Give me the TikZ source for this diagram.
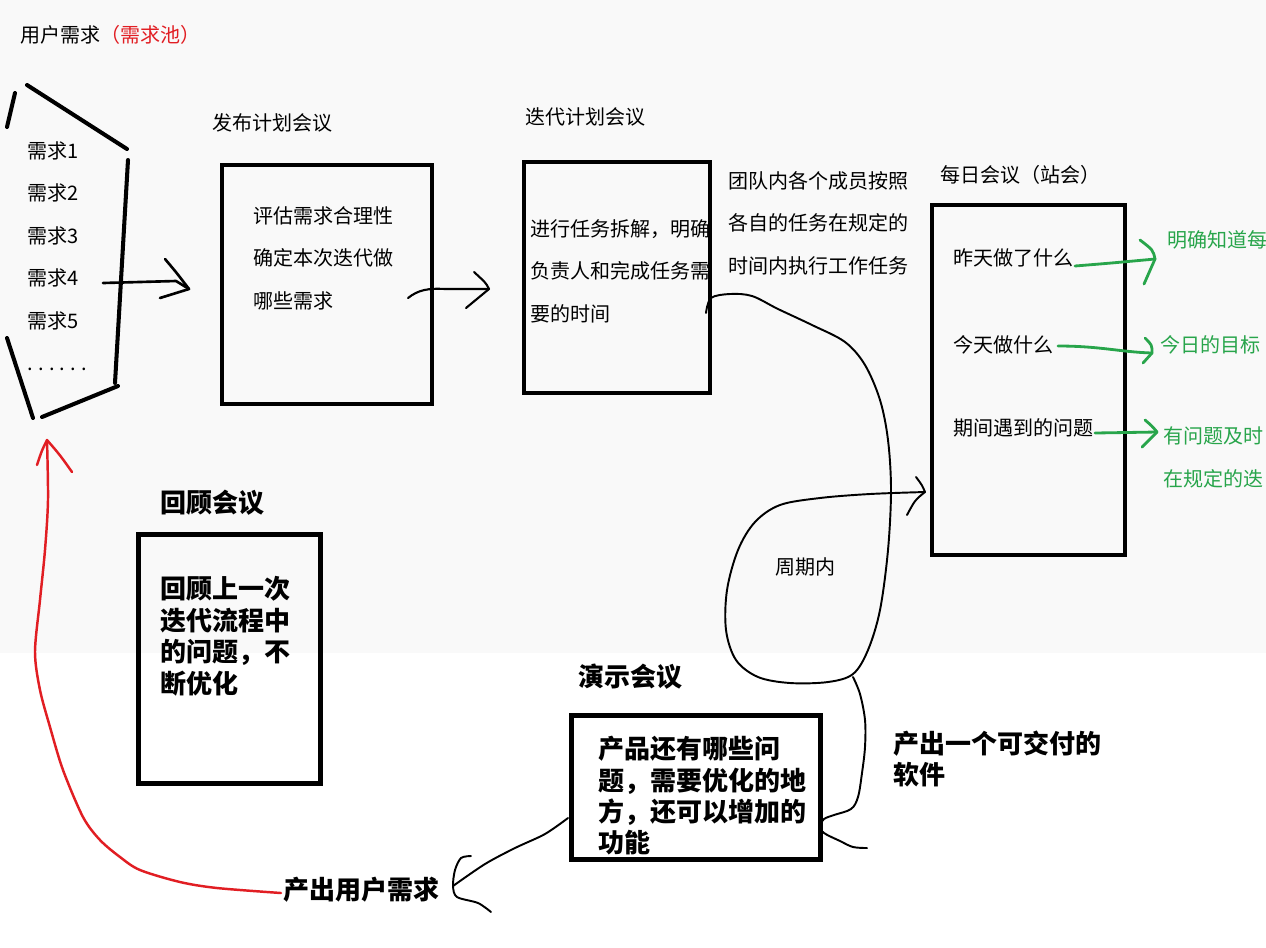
\documentclass[tikz,border=0pt]{standalone}
\usepackage{fontspec}
\setmainfont{Noto Sans CJK SC}
\definecolor{gr}{RGB}{40,165,75}
\definecolor{rd}{RGB}{225,30,35}
\definecolor{bgc}{RGB}{249,249,249}
\begin{document}
\begin{tikzpicture}[x=0.02cm,y=-0.02cm,
  txt/.style={inner sep=0, font=\fontsize{11.4}{24.2}\selectfont, align=left},
  btxt/.style={inner sep=0, font=\bfseries\fontsize{14.8}{17.8}\selectfont, align=left},
  box/.style={draw, line width=2.3pt, inner sep=0},
  bbox/.style={draw, line width=2.8pt, inner sep=0},
  ln/.style={line width=1.2pt, line cap=round, line join=round},
  poolln/.style={line width=2.3pt, line cap=round},
  gln/.style={ln, gr, line width=1.6pt},
  rln/.style={ln, rd, line width=1.4pt}]
\useasboundingbox (0,0) rectangle (1266,947);
\clip (0,0) rectangle (1266,947);
\fill[white] (0,0) rectangle (1266,947);
\fill[bgc] (0,0) rectangle (1266,653);

% title
\node[txt, anchor=west] (title) at (20,35) {用户需求\textcolor{rd}{（需求池）}};

% requirement pool
\draw[poolln] (15,93) -- (7,127);
\draw[poolln] (27,85) -- (127,149);
\draw[poolln] (128,160) -- (115,383);
\draw[poolln] (118,386) -- (42,417);
\draw[poolln] (7,338) -- (33,418);
\node[txt, anchor=north west] (pool) at (27,141) {需求1\\需求2\\需求3\\需求4\\需求5\\.\hspace{3pt}.\hspace{3pt}.\hspace{3pt}.\hspace{3pt}.\hspace{3pt}.};

% boxes
\node[txt, anchor=west] (l1) at (212,123) {发布计划会议};
\node[box, minimum width=4.2cm, minimum height=4.78cm] (b1) at (327,284.5) {};
\node[txt, anchor=north west] (t1) at (253,206) {评估需求合理性\\确定本次迭代做\\哪些需求};

\node[txt, anchor=west] (l2) at (525,117) {迭代计划会议};
\node[box, minimum width=3.72cm, minimum height=4.62cm] (b2) at (617,277.5) {};
\node[txt, anchor=north west] (t2) at (530,219) {进行任务拆解，明确\\负责人和完成任务需\\要的时间};

\node[txt, anchor=north west] (team) at (728,171) {团队内各个成员按照\\各自的任务在规定的\\时间内执行工作任务};

\node[txt, anchor=west] (l3) at (940,175) {每日会议（站会）};
\node[box, minimum width=3.86cm, minimum height=7.0cm] (b3) at (1028.5,380) {};
\node[txt, anchor=west] (q1) at (953,258) {昨天做了什么};
\node[txt, anchor=west] (q2) at (953,345) {今天做什么};
\node[txt, anchor=west] (q3) at (953,428) {期间遇到的问题};

\node[txt, gr, anchor=west] (g1) at (1167,240) {明确知道每};
\node[txt, gr, anchor=west] (g2) at (1160,345) {今日的目标};
\node[txt, gr, anchor=north west, font=\fontsize{11.4}{24.5}\selectfont] (g3) at (1163,426) {有问题及时\\在规定的迭};

\node[txt, anchor=west] (cyc) at (775,567) {周期内};

\node[btxt, anchor=west] (l5) at (160,503) {回顾会议};
\node[bbox, minimum width=3.64cm, minimum height=4.98cm] (b5) at (229.5,659) {};
\node[btxt, anchor=north west, font=\bfseries\fontsize{14.8}{18}\selectfont] (t5) at (160,576) {回顾上一次\\迭代流程中\\的问题，不\\断优化};

\node[btxt, anchor=west] (l4) at (578,677) {演示会议};
\node[bbox, minimum width=4.98cm, minimum height=2.88cm] (b4) at (696,787.5) {};
\node[btxt, anchor=north west] (t4) at (598,736) {产品还有哪些问\\题，需要优化的地\\方，还可以增加的\\功能};

\node[btxt, anchor=north west, font=\bfseries\fontsize{14.8}{17.2}\selectfont] (soft) at (893,731) {产出一个可交付的\\软件};
\node[btxt, anchor=west] (out) at (283,890) {产出用户需求};

% arrow pool -> b1
\coordinate (a1s) at (103,283);
\coordinate (a1e) at (189,289);
\draw[ln, line width=1.5pt] (a1s) -- (176,281) -- (a1e);
\draw[ln, line width=1.5pt] (165,259) .. controls (176,272) .. (a1e) .. controls (175,294) .. (160,298);

% arrow b1 -> b2
\coordinate (a2s) at (408,298);
\coordinate (a2e) at (489,289);
\draw[ln] (a2s) .. controls (418,290) and (428,288) .. (445,289) -- (a2e);
\draw[ln] (474,272) .. controls (486,283) .. (a2e) .. controls (478,298) .. (466,308);

% loop from b2 to b3
\coordinate (lf0) at (706,313);
\coordinate (lfE) at (925,492);
\draw[ln, line width=1.1pt] plot[smooth, tension=0.55] coordinates {(lf0) (711,298) (730,294) (752,296) (778,309) (812,325) (845,342) (865,365) (880,400) (888,440) (891,490) (888,550) (880,610) (868,650) (853,674) (828,682) (790,683) (758,677) (736,660) (726,630) (727,590) (738,550) (755,522) (780,505) (820,498) (870,494) (lfE)};
\draw[ln, line width=1.1pt] (916,477) .. controls (922,485) .. (lfE) .. controls (915,500) .. (907,515);

% leaf -> b4
\coordinate (s0) at (853,677);
\coordinate (s1) at (867,848);
\draw[ln, line width=1.1pt] plot[smooth, tension=0.55] coordinates {(s0) (860,694) (865,720) (865,747) (862,773) (858,797) (851,809) (834,815) (824,819) (820,826) (824,833) (840,841) (853,847) (s1)};

% b4 -> out
\coordinate (o0) at (568,818);
\coordinate (o1) at (453,886);
\draw[ln, line width=1.1pt] plot[smooth, tension=0.5] coordinates {(o0) (545,834) (515,848) (485,864) (o1)};
\draw[ln, line width=1.1pt] plot[smooth, tension=0.5] coordinates {(471,856) (461,858) (455,870) (o1) (457,897) (478,903) (491,912)};

% red arrow out -> pool
\coordinate (r0) at (281,893);
\coordinate (rE) at (47,440);
\draw[rln] plot[smooth, tension=0.5] coordinates {(r0) (217,888) (180,882) (140,870) (120,857) (100,840) (83,817) (63,770) (50,727) (40,690) (35,652) (40,600) (45,550) (48,500) (rE)};
\draw[rln] (37,465) .. controls (42,450) .. (rE) .. controls (60,455) .. (72,472);

% green arrows
\coordinate (g1s) at (1075,266);
\coordinate (g1e) at (1155,259);
\draw[gln] (g1s) .. controls (1112,263) .. (g1e);
\draw[gln] (1140,240) .. controls (1153,250) .. (g1e) .. controls (1150,272) .. (1144,284);
\coordinate (g2s) at (1058,346);
\coordinate (g2e) at (1152,353);
\draw[gln] (g2s) .. controls (1100,346) and (1120,352) .. (g2e);
\draw[gln] (1145,338) .. controls (1152,345) .. (g2e) .. controls (1148,358) .. (1143,363);
\coordinate (g3s) at (1095,433);
\coordinate (g3e) at (1157,432);
\draw[gln] (g3s) -- (g3e);
\draw[gln] (1145,420) .. controls (1152,426) .. (g3e) .. controls (1150,440) .. (1142,447);
\end{tikzpicture}
\end{document}
